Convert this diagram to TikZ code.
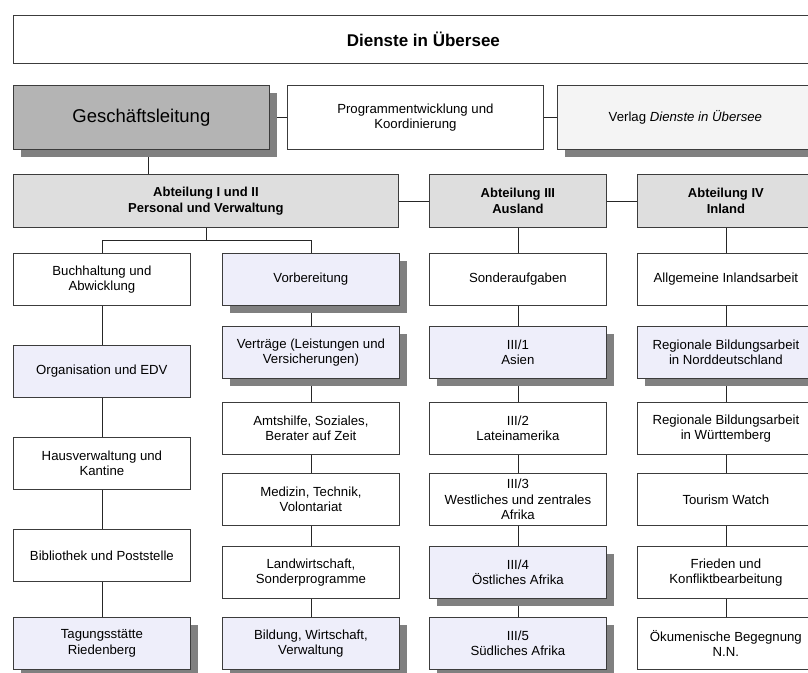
\documentclass[tikz,border=0pt]{standalone}
\usepackage{fontspec}
\setmainfont{Liberation Sans}
\usetikzlibrary{shadows,backgrounds}

\definecolor{frame}{HTML}{3C3C3C}
\definecolor{shadowgray}{HTML}{808080}
\definecolor{leadfill}{HTML}{B4B4B4}
\definecolor{deptfill}{HTML}{DEDEDE}
\definecolor{pressfill}{HTML}{F4F4F4}
\definecolor{lavfill}{HTML}{EEEEFA}

\tikzset{
  unit/.style={draw=frame, line width=0.8pt, anchor=north west, inner sep=2pt,
    align=center, font=\fontsize{13.2}{15.4}\selectfont},
  plain/.style={unit, fill=white},
  lav/.style={unit, fill=lavfill},
  dept/.style={unit, fill=deptfill, minimum height=53pt,
    font=\fontsize{13}{15.6}\selectfont\bfseries},
  shade/.style={drop shadow={shadow xshift=8pt, shadow yshift=-8pt,
    fill=shadowgray, opacity=1}},
  cell/.style={minimum width=177pt, minimum height=52pt},
  link/.style={draw=black!85, line width=0.8pt}
}

\begin{document}
\begin{tikzpicture}[x=1pt, y=-1pt]
\useasboundingbox (0,0) rectangle (808,672);
\clip (0,0) rectangle (808,672);

% title
\node[plain, minimum width=820pt, minimum height=48pt,
  font=\fontsize{17}{19}\selectfont\bfseries] (title) at (13,15) {Dienste in Übersee};

% management row
\node[unit, fill=leadfill, shade, minimum width=256pt, minimum height=64pt,
  font=\fontsize{18.5}{22}\selectfont] (gl) at (13,85) {Geschäftsleitung};
\node[plain, minimum width=256pt, minimum height=64pt] (prog) at (287,85)
  {Programmentwicklung und\\Koordinierung};
\node[unit, fill=pressfill, shade, minimum width=256pt, minimum height=64pt] (verlag) at (557,85)
  {Verlag \textit{Dienste in Übersee}};

% departments
\node[dept, minimum width=385pt] (abt1) at (13,174) {Abteilung I und II\\Personal und Verwaltung};
\node[dept, minimum width=177pt] (abt3) at (429,174) {Abteilung III\\Ausland};
\node[dept, minimum width=177pt] (abt4) at (637,174) {Abteilung IV\\Inland};

% column 1
\node[plain, cell] (a1) at (13,253) {Buchhaltung und\\Abwicklung};
\node[lav, cell] (a2) at (13,345) {Organisation und EDV};
\node[plain, cell] (a3) at (13,437) {Hausverwaltung und\\Kantine};
\node[plain, cell] (a4) at (13,529) {Bibliothek und Poststelle};
\node[lav, shade, cell] (a5) at (13,617) {Tagungsstätte\\Riedenberg};

% column 2
\node[lav, shade, cell] (b1) at (222,253) {Vorbereitung};
\node[lav, shade, cell] (b2) at (222,326) {Verträge (Leistungen und\\Versicherungen)};
\node[plain, cell] (b3) at (222,402) {Amtshilfe, Soziales,\\Berater auf Zeit};
\node[plain, cell] (b4) at (222,473) {Medizin, Technik,\\Volontariat};
\node[plain, cell] (b5) at (222,546) {Landwirtschaft,\\Sonderprogramme};
\node[lav, shade, cell] (b6) at (222,617) {Bildung, Wirtschaft,\\Verwaltung};

% column 3
\node[plain, cell] (c1) at (429,253) {Sonderaufgaben};
\node[lav, shade, cell] (c2) at (429,326) {III/1\\Asien};
\node[plain, cell] (c3) at (429,402) {III/2\\Lateinamerika};
\node[plain, cell] (c4) at (429,473) {III/3\\Westliches und zentrales\\Afrika};
\node[lav, shade, cell] (c5) at (429,546) {III/4\\Östliches Afrika};
\node[lav, shade, cell] (c6) at (429,617) {III/5\\Südliches Afrika};

% column 4
\node[plain, cell] (d1) at (637,253) {Allgemeine Inlandsarbeit};
\node[lav, shade, cell] (d2) at (637,326) {Regionale Bildungsarbeit\\in Norddeutschland};
\node[plain, cell] (d3) at (637,402) {Regionale Bildungsarbeit\\in Württemberg};
\node[plain, cell] (d4) at (637,473) {Tourism Watch};
\node[plain, cell] (d5) at (637,546) {Frieden und\\Konfliktbearbeitung};
\node[plain, cell] (d6) at (637,617) {Ökumenische Begegnung\\N.N.};

% connectors
\begin{pgfonlayer}{background}
  \draw[link] (gl.east) -- (prog.west);
  \draw[link] (prog.east) -- (verlag.west);
  \draw[link] ([xshift=7pt]gl.south) -- ([xshift=7pt]gl.south |- abt1.north);
  \draw[link] (abt1.east) -- (abt3.west);
  \draw[link] (abt3.east) -- (abt4.west);
  \coordinate (fork) at ([yshift=-13pt]abt1.south);
  \draw[link] (abt1.south) -- (fork);
  \draw[link] (a1.north) |- (fork) -| (b1.north);
  \draw[link] (abt3.south) -- (c1.north);
  \draw[link] (abt4.south) -- (d1.north);
  \draw[link] (a1) -- (a2) -- (a3) -- (a4) -- (a5);
  \draw[link] (b1) -- (b2) -- (b3) -- (b4) -- (b5) -- (b6);
  \draw[link] (c1) -- (c2) -- (c3) -- (c4) -- (c5) -- (c6);
  \draw[link] (d1) -- (d2) -- (d3) -- (d4) -- (d5) -- (d6);
\end{pgfonlayer}
\end{tikzpicture}
\end{document}
